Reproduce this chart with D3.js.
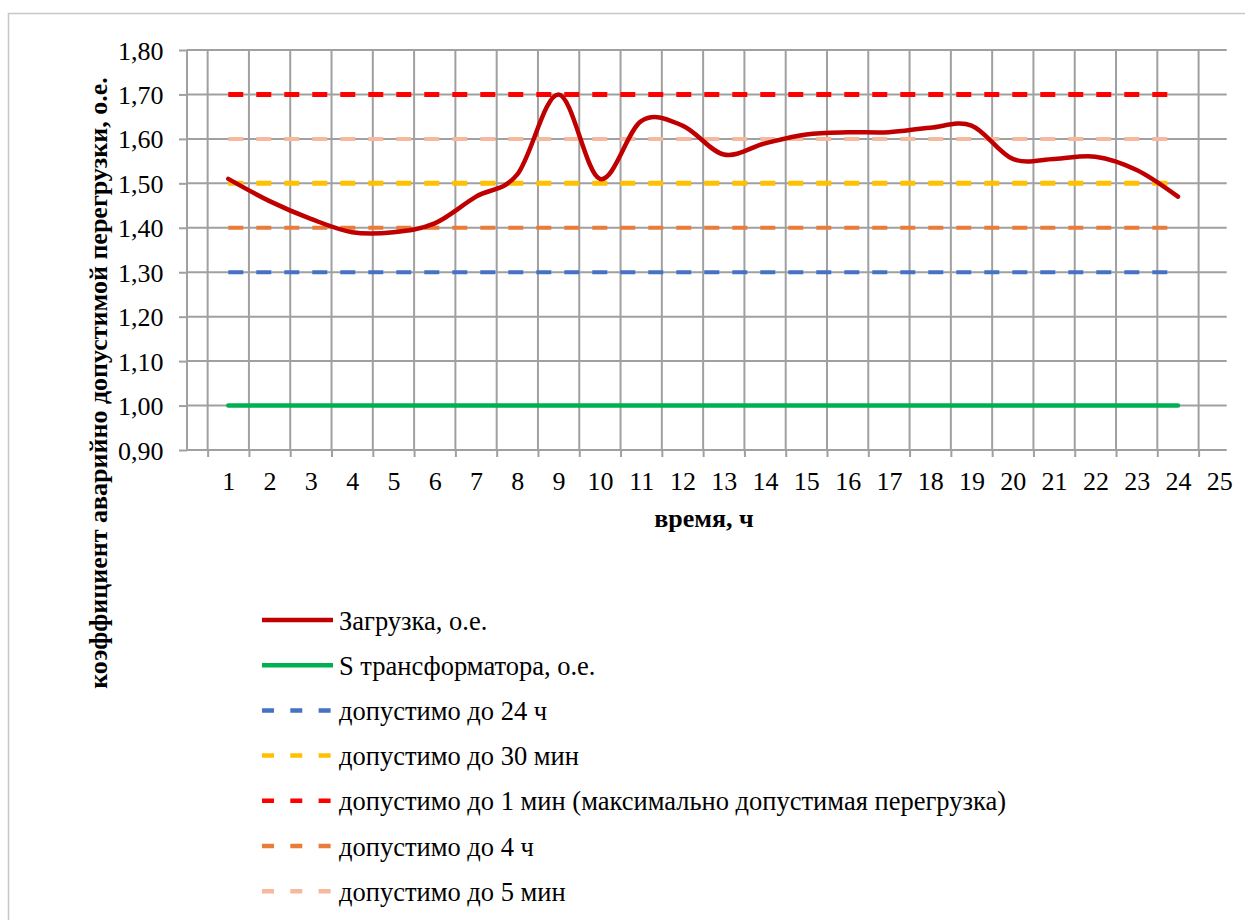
<!DOCTYPE html>
<html>
<head>
<meta charset="utf-8">
<script src="https://cdn.jsdelivr.net/npm/d3@7"></script>
<style>
  html, body { margin: 0; padding: 0; background: #fff; }
  svg { display: block; }
  text { font-family: "Liberation Serif", "Times New Roman", serif; fill: #000; }
</style>
</head>
<body>
<svg id="chart" width="1245" height="920"></svg>
<script>
// Hours of the day and the load curve (per-unit)
const hours = d3.range(1, 25);
const axisHours = d3.range(1, 26);
const loadValues = [1.51, 1.46, 1.42, 1.39, 1.39, 1.41, 1.47, 1.52, 1.70, 1.51, 1.64, 1.63,
                    1.565, 1.59, 1.61, 1.615, 1.615, 1.625, 1.63, 1.555, 1.555, 1.56, 1.53, 1.47];
// Constant reference levels
const transformerLevel = 1.00;
const limit24h = 1.30;
const limit30min = 1.50;
const limit1min = 1.70;
const limit4h = 1.40;
const limit5min = 1.60;
const yTicks = [0.9, 1.0, 1.1, 1.2, 1.3, 1.4, 1.5, 1.6, 1.7, 1.8];
const seriesNames = [
  "Загрузка, о.е.",
  "S трансформатора, о.е.",
  "допустимо до 24 ч",
  "допустимо до 30 мин",
  "допустимо до 1 мин (максимально допустимая перегрузка)",
  "допустимо до 4 ч",
  "допустимо до 5 мин"
];

const series = [
  { name: seriesNames[0], values: loadValues, color: "#c00000", width: 4.5, dash: null, smooth: true },
  { name: seriesNames[1], values: hours.map(() => transformerLevel), color: "#00b050", width: 4.5, dash: null },
  { name: seriesNames[2], values: hours.map(() => limit24h), color: "#4472c4", width: 4, dash: "15,13" },
  { name: seriesNames[3], values: hours.map(() => limit30min), color: "#ffc000", width: 5, dash: "15,13" },
  { name: seriesNames[4], values: hours.map(() => limit1min), color: "#ff0000", width: 5, dash: "15,13" },
  { name: seriesNames[5], values: hours.map(() => limit4h), color: "#e97c38", width: 4, dash: "15,13" },
  { name: seriesNames[6], values: hours.map(() => limit5min), color: "#f6b9a0", width: 4, dash: "15,13" }
];

const svg = d3.select("#chart");
const gridColor = "#a0a0a0";
const fontSize = 26;

// Outer chart frame
svg.append("rect")
  .attr("x", 8.5).attr("y", 13.5)
  .attr("width", 1260).attr("height", 940)
  .attr("fill", "none").attr("stroke", "#c8c8c8").attr("stroke-width", 1.5);

const plotLeft = 187, plotTop = 50, plotBottom = 450, plotRight = 1226.7;
const step = 41.29;

const x = d3.scaleLinear().domain([0, 1]).range([plotLeft, plotLeft + step]);
const y = d3.scaleLinear().domain([0.9, 1.8]).range([plotBottom, plotTop]);

// Gridlines
const grid = svg.append("g");
grid.selectAll("line.h").data(yTicks).join("line")
  .attr("x1", plotLeft).attr("x2", plotRight)
  .attr("y1", d => y(d)).attr("y2", d => y(d))
  .attr("stroke", gridColor).attr("stroke-width", 2);
const vLines = d3.range(0, 25).map(i => i + 0.5);
grid.selectAll("line.v").data([0].concat(vLines)).join("line")
  .attr("x1", d => x(d)).attr("x2", d => x(d))
  .attr("y1", plotTop).attr("y2", plotBottom)
  .attr("stroke", gridColor).attr("stroke-width", 2);

// Y axis: tick marks and labels
const yAxis = svg.append("g")
  .attr("transform", `translate(${plotLeft},0)`)
  .call(d3.axisLeft(y).tickValues(yTicks).tickSize(8).tickPadding(15.5)
    .tickFormat(d => d.toFixed(2).replace(".", ",")));
yAxis.select(".domain").remove();
yAxis.selectAll(".tick line").attr("stroke", gridColor).attr("stroke-width", 2);
yAxis.selectAll(".tick text").attr("font-size", fontSize).attr("dy", "0.35em");

// X axis: tick marks between hours, labels on hours
const xTicks = svg.append("g")
  .attr("transform", `translate(0,${plotBottom})`)
  .call(d3.axisBottom(x).tickValues(vLines).tickSize(7).tickFormat(""));
xTicks.select(".domain").remove();
xTicks.selectAll(".tick line").attr("stroke", gridColor).attr("stroke-width", 2);

const xLabels = svg.append("g")
  .attr("transform", `translate(0,${plotBottom})`)
  .call(d3.axisBottom(x).tickValues(axisHours).tickSize(0).tickPadding(21.5).tickFormat(d3.format("d")));
xLabels.select(".domain").remove();
xLabels.selectAll(".tick text").attr("font-size", fontSize);

// Series lines
const lineStraight = d3.line().x((d, i) => x(hours[i])).y(d => y(d));
const lineSmooth = d3.line().x((d, i) => x(hours[i])).y(d => y(d)).curve(d3.curveCardinal.tension(0));

const drawOrder = [1, 2, 3, 4, 5, 6, 0];
svg.append("g").selectAll("path").data(drawOrder.map(i => series[i])).join("path")
  .attr("d", s => (s.smooth ? lineSmooth : lineStraight)(s.values))
  .attr("fill", "none")
  .attr("stroke", s => s.color)
  .attr("stroke-width", s => s.width)
  .attr("stroke-dasharray", s => s.dash)
  .attr("stroke-linecap", s => s.dash ? "butt" : "round")
  .attr("stroke-linejoin", "round");

// Axis titles
svg.append("text")
  .attr("x", 704).attr("y", 527)
  .attr("text-anchor", "middle")
  .attr("font-size", fontSize).attr("font-weight", "bold")
  .text("время, ч");

svg.append("text")
  .attr("transform", "translate(107,383) rotate(-90)")
  .attr("text-anchor", "middle")
  .attr("font-size", fontSize).attr("font-weight", "bold")
  .text("коэффициент аварийно допустимой перегрузки, о.е.");

// Legend
const legend = svg.append("g");
const rowY = d3.scaleLinear().domain([0, 1]).range([620, 665.2]);
const items = legend.selectAll("g").data(series).join("g")
  .attr("transform", (d, i) => `translate(0,${rowY(i)})`);
items.append("line")
  .attr("x1", 262).attr("x2", 333).attr("y1", 0).attr("y2", 0)
  .attr("stroke", d => d.color)
  .attr("stroke-width", 4.5)
  .attr("stroke-dasharray", d => d.dash ? "12,16.3" : null);
items.append("text")
  .attr("x", 339).attr("y", 9.5)
  .attr("font-size", 26.5)
  .text(d => d.name);
</script>
</body>
</html>
